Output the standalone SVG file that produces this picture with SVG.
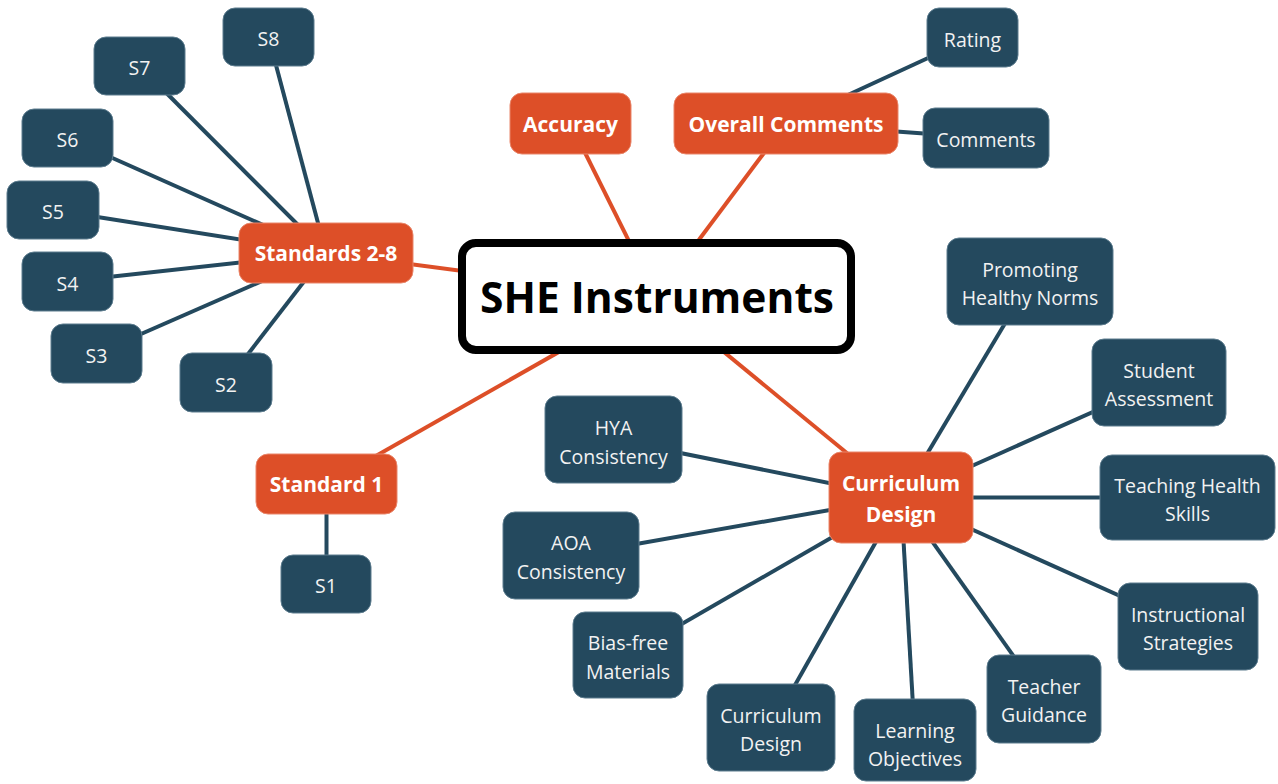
<svg xmlns="http://www.w3.org/2000/svg" width="1278" height="784" viewBox="0 0 1278 784">
<style>
  .hub rect { fill: #DD4F28; stroke: #E9866A; stroke-width: 1; }
  .leaf rect { fill: #24495E; stroke: #5C7C8E; stroke-width: 1; }
  .hub text { fill: #FFFFFF; font-family: "Open Sans", "Noto Sans", sans-serif; font-size: 21px; font-weight: bold; text-anchor: middle; }
  .leaf text { fill: #F2F2F2; font-family: "Open Sans", "Noto Sans", sans-serif; font-size: 19.5px; text-anchor: middle; }
  .or { stroke: #DD4F28; stroke-width: 4; fill: none; }
  .dk { stroke: #24495E; stroke-width: 4; fill: none; }
  .title { fill: #000; font-family: "Open Sans", "Noto Sans", sans-serif; font-size: 42.5px; font-weight: bold; text-anchor: middle; }
</style>
<rect width="1278" height="784" fill="#FFFFFF"/>
<g id="connectors">
  <line class="or" x1="656.5" y1="296.5" x2="570.5" y2="123.5"/>
  <line class="or" x1="656.5" y1="296.5" x2="786" y2="123.5"/>
  <line class="or" x1="656.5" y1="296.5" x2="326" y2="253"/>
  <line class="or" x1="656.5" y1="296.5" x2="326.5" y2="484"/>
  <line class="or" x1="656.5" y1="296.5" x2="901" y2="497.5"/>
  <line class="dk" x1="786" y1="123.5" x2="972.5" y2="37.5"/>
  <line class="dk" x1="786" y1="123.5" x2="986" y2="138"/>
  <line class="dk" x1="326" y1="253" x2="268.5" y2="37"/>
  <line class="dk" x1="326" y1="253" x2="139.5" y2="66"/>
  <line class="dk" x1="326" y1="253" x2="67.5" y2="138"/>
  <line class="dk" x1="326" y1="253" x2="53" y2="210"/>
  <line class="dk" x1="326" y1="253" x2="67.5" y2="281.5"/>
  <line class="dk" x1="326" y1="253" x2="96.5" y2="353.5"/>
  <line class="dk" x1="326" y1="253" x2="226" y2="382.5"/>
  <line class="dk" x1="326.5" y1="484" x2="326.5" y2="584"/>
  <line class="dk" x1="901" y1="497.5" x2="1030" y2="281.5"/>
  <line class="dk" x1="901" y1="497.5" x2="1159" y2="382.5"/>
  <line class="dk" x1="901" y1="497.5" x2="1187.5" y2="497.5"/>
  <line class="dk" x1="901" y1="497.5" x2="1188" y2="626.5"/>
  <line class="dk" x1="901" y1="497.5" x2="1044" y2="699"/>
  <line class="dk" x1="901" y1="497.5" x2="915" y2="740"/>
  <line class="dk" x1="901" y1="497.5" x2="771" y2="727.5"/>
  <line class="dk" x1="901" y1="497.5" x2="628" y2="655"/>
  <line class="dk" x1="901" y1="497.5" x2="571" y2="555.5"/>
  <line class="dk" x1="901" y1="497.5" x2="613.5" y2="439.5"/>
</g>
<g id="center">
  <rect x="462" y="243" width="389" height="107" rx="14" fill="#FFFFFF" stroke="#000000" stroke-width="8"/>
  <text class="title" x="657" y="313">SHE Instruments</text>
</g>
<g id="accuracy" class="hub"><rect x="510" y="93" width="121" height="61" rx="12"/><text x="570.5" y="132">Accuracy</text></g>
<g id="overall-comments" class="hub"><rect x="674" y="93" width="224" height="61" rx="12"/><text x="786" y="132">Overall Comments</text></g>
<g id="standards-2-8" class="hub"><rect x="239" y="223" width="174" height="60" rx="12"/><text x="326" y="261">Standards 2-8</text></g>
<g id="standard-1" class="hub"><rect x="256" y="454" width="141" height="60" rx="12"/><text x="326.5" y="492">Standard 1</text></g>
<g id="curriculum-design-hub" class="hub"><rect x="829" y="452" width="144" height="91" rx="12"/><text x="901" y="491">Curriculum</text><text x="901" y="522">Design</text></g>
<g id="rating" class="leaf"><rect x="927" y="8" width="91" height="59" rx="12"/><text x="972.5" y="47">Rating</text></g>
<g id="comments" class="leaf"><rect x="923" y="108" width="126" height="60" rx="12"/><text x="986" y="147">Comments</text></g>
<g id="s8" class="leaf"><rect x="223" y="8" width="91" height="58" rx="12"/><text x="268.5" y="46">S8</text></g>
<g id="s7" class="leaf"><rect x="94" y="37" width="91" height="58" rx="12"/><text x="139.5" y="75">S7</text></g>
<g id="s6" class="leaf"><rect x="22" y="109" width="91" height="58" rx="12"/><text x="67.5" y="147">S6</text></g>
<g id="s5" class="leaf"><rect x="7" y="181" width="92" height="58" rx="12"/><text x="53" y="219">S5</text></g>
<g id="s4" class="leaf"><rect x="22" y="252" width="91" height="59" rx="12"/><text x="67.5" y="291">S4</text></g>
<g id="s3" class="leaf"><rect x="51" y="324" width="91" height="59" rx="12"/><text x="96.5" y="363">S3</text></g>
<g id="s2" class="leaf"><rect x="180" y="353" width="92" height="59" rx="12"/><text x="226" y="392">S2</text></g>
<g id="s1" class="leaf"><rect x="281" y="555" width="90" height="58" rx="12"/><text x="326" y="593">S1</text></g>
<g id="promoting-healthy-norms" class="leaf"><rect x="947" y="238" width="166" height="87" rx="12"/><text x="1030" y="277">Promoting</text><text x="1030" y="305">Healthy Norms</text></g>
<g id="student-assessment" class="leaf"><rect x="1092" y="339" width="134" height="87" rx="12"/><text x="1159" y="378">Student</text><text x="1159" y="406">Assessment</text></g>
<g id="teaching-health-skills" class="leaf"><rect x="1100" y="455" width="175" height="85" rx="12"/><text x="1187.5" y="493">Teaching Health</text><text x="1187.5" y="521">Skills</text></g>
<g id="instructional-strategies" class="leaf"><rect x="1118" y="583" width="140" height="87" rx="12"/><text x="1188" y="622">Instructional</text><text x="1188" y="650">Strategies</text></g>
<g id="teacher-guidance" class="leaf"><rect x="987" y="655" width="114" height="88" rx="12"/><text x="1044" y="694">Teacher</text><text x="1044" y="722">Guidance</text></g>
<g id="learning-objectives" class="leaf"><rect x="854" y="699" width="122" height="82" rx="12"/><text x="915" y="738">Learning</text><text x="915" y="766">Objectives</text></g>
<g id="curriculum-design" class="leaf"><rect x="707" y="684" width="128" height="87" rx="12"/><text x="771" y="723">Curriculum</text><text x="771" y="751">Design</text></g>
<g id="bias-free-materials" class="leaf"><rect x="573" y="612" width="110" height="86" rx="12"/><text x="628" y="650">Bias-free</text><text x="628" y="679">Materials</text></g>
<g id="aoa-consistency" class="leaf"><rect x="503" y="512" width="136" height="87" rx="12"/><text x="571" y="550">AOA</text><text x="571" y="579">Consistency</text></g>
<g id="hya-consistency" class="leaf"><rect x="545" y="396" width="137" height="87" rx="12"/><text x="613.5" y="435">HYA</text><text x="613.5" y="464">Consistency</text></g>
</svg>
